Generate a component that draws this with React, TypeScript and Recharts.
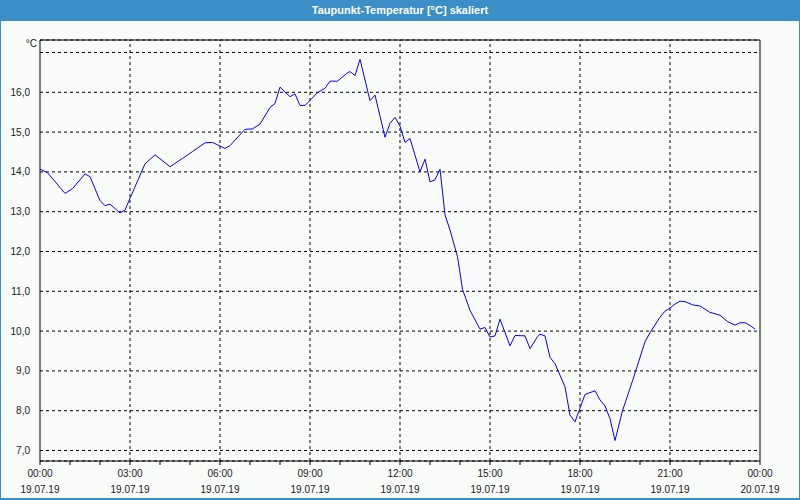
import { CartesianGrid, Line, LineChart, ReferenceLine, XAxis, YAxis } from "recharts";

const times = [
  "00:00", "00:15", "00:50", "01:05", "01:30", "01:40", "02:00", "02:10", "02:20", "02:40",
  "02:50", "03:00", "03:30", "03:50", "04:20", "04:45", "05:05", "05:30", "05:45", "06:10",
  "06:20", "06:50", "07:05", "07:20", "07:40", "07:50", "08:00", "08:20", "08:30", "08:40",
  "08:50", "09:15", "09:30", "09:40", "09:55", "10:15", "10:20", "10:30", "10:40", "11:00",
  "11:10", "11:30", "11:40", "11:50", "12:00", "12:10", "12:20", "12:40", "12:50", "13:00",
  "13:10", "13:20", "13:30", "13:40", "13:55", "14:05", "14:20", "14:40", "14:50", "15:00",
  "15:10", "15:20", "15:40", "15:50", "16:10", "16:20", "16:35", "16:40", "16:50", "17:00",
  "17:10", "17:30", "17:40", "17:50", "18:10", "18:30", "18:40", "18:50", "19:00", "19:10",
  "19:25", "19:45", "20:10", "20:20", "20:40", "20:50", "21:00", "21:10", "21:20", "21:30",
  "21:45", "22:00", "22:20", "22:40", "22:55", "23:10", "23:20", "23:30", "23:40", "23:50",
];

const dewPoint = [
  14.07, 13.98, 13.46, 13.58, 13.95, 13.88, 13.28, 13.15, 13.19, 12.97,
  13.04, 13.34, 14.2, 14.43, 14.13, 14.34, 14.51, 14.73, 14.74, 14.59,
  14.66, 15.07, 15.08, 15.2, 15.62, 15.72, 16.13, 15.89, 15.96, 15.67,
  15.67, 15.99, 16.1, 16.28, 16.28, 16.49, 16.52, 16.42, 16.83, 15.79,
  15.93, 14.87, 15.22, 15.37, 15.15, 14.74, 14.84, 14.0, 14.32, 13.75,
  13.8, 14.07, 12.92, 12.54, 11.87, 11.05, 10.52, 10.05, 10.09, 9.85,
  9.88, 10.3, 9.63, 9.89, 9.88, 9.56, 9.86, 9.92, 9.88, 9.34,
  9.18, 8.6, 7.89, 7.72, 8.41, 8.5, 8.27, 8.12, 7.8, 7.25,
  8.0, 8.75, 9.73, 9.96, 10.35, 10.5, 10.58, 10.68, 10.75, 10.74,
  10.66, 10.63, 10.47, 10.4, 10.24, 10.15, 10.21, 10.21, 10.14, 10.05,
];

const hourTicks = [0, 1, 2, 3, 4, 5, 6, 7, 8, 9, 10, 11, 12, 13, 14, 15, 16, 17, 18, 19, 20, 21, 22, 23, 24];
const gridHours = [3, 6, 9, 12, 15, 18, 21];
const timeLabels = ["00:00", "03:00", "06:00", "09:00", "12:00", "15:00", "18:00", "21:00", "00:00"];
const dateLabels = [
  "19.07.19", "19.07.19", "19.07.19", "19.07.19", "19.07.19",
  "19.07.19", "19.07.19", "19.07.19", "20.07.19",
];
const valueTicks = [7, 8, 9, 10, 11, 12, 13, 14, 15, 16, 17];
const valueDomain = [6.736, 17.314];

const FONT = '"Liberation Sans", Arial, sans-serif';
const BLUE = "#3c8fc6";

const data = times.map((t, i) => {
  const [h, m] = t.split(":").map(Number);
  return { hour: h + m / 60, value: dewPoint[i] };
});

function TimeTick(props: any) {
  const { x, y, payload } = props;
  const v = payload.value as number;
  if (v % 3 !== 0) return <g />;
  const i = v / 3;
  return (
    <g>
      <text x={x} y={y + 10} textAnchor="middle" fontSize={10} fontFamily={FONT} fill="#222">
        {timeLabels[i]}
      </text>
      <text x={x} y={y + 26} textAnchor="middle" fontSize={10} fontFamily={FONT} fill="#222">
        {dateLabels[i]}
      </text>
    </g>
  );
}

export default function App() {
  return (
    <div
      style={{
        position: "fixed",
        left: 0,
        top: 0,
        width: 800,
        height: 500,
        background: "#f8fbf8",
        fontFamily: FONT,
      }}
    >
      <LineChart
        width={800}
        height={500}
        data={data}
        margin={{ top: 40, right: 40, left: 0, bottom: 0 }}
        style={{ position: "absolute", left: 0, top: 0 }}
      >
        <CartesianGrid vertical={false} stroke="#000" strokeDasharray="3 3" />
        {gridHours.map((h) => (
          <ReferenceLine key={h} x={h} stroke="#000" strokeDasharray="3 3" />
        ))}
        {/* solid frame on top and right */}
        <ReferenceLine x={24} stroke="#000" />
        <ReferenceLine y={valueDomain[1]} stroke="#000" />
        <XAxis
          dataKey="hour"
          type="number"
          domain={[0, 24]}
          ticks={hourTicks}
          interval={0}
          height={39}
          stroke="#000"
          tickSize={4}
          tick={<TimeTick />}
          allowDataOverflow
        />
        <YAxis
          type="number"
          domain={valueDomain}
          ticks={valueTicks}
          interval={0}
          width={40}
          stroke="#000"
          tickLine={false}
          tickMargin={4}
          tick={{ fontSize: 10, fontFamily: FONT, fill: "#222" }}
          tickFormatter={(v: number) => (v === 17 ? "" : v.toFixed(1).replace(".", ","))}
          allowDataOverflow
        />
        <Line
          type="linear"
          dataKey="value"
          stroke="#0000ff"
          strokeWidth={1}
          dot={false}
          activeDot={false}
          isAnimationActive={false}
        />
      </LineChart>
      <div
        style={{
          position: "absolute",
          left: 0,
          top: 0,
          width: 800,
          height: 21,
          background: BLUE,
          color: "#fff",
          fontSize: 11,
          fontWeight: "bold",
          lineHeight: "21px",
          textAlign: "center",
        }}
      >
        Taupunkt-Temperatur [°C] skaliert
      </div>
      <div
        style={{
          position: "absolute",
          left: 0,
          top: 38,
          width: 37,
          textAlign: "right",
          fontSize: 10,
          color: "#222",
        }}
      >
        °C
      </div>
      <div
        style={{
          position: "absolute",
          left: 0,
          top: 0,
          width: 800,
          height: 500,
          boxSizing: "border-box",
          borderLeft: `1px solid ${BLUE}`,
          borderRight: `1px solid ${BLUE}`,
          borderBottom: `2px solid ${BLUE}`,
          pointerEvents: "none",
        }}
      />
    </div>
  );
}
